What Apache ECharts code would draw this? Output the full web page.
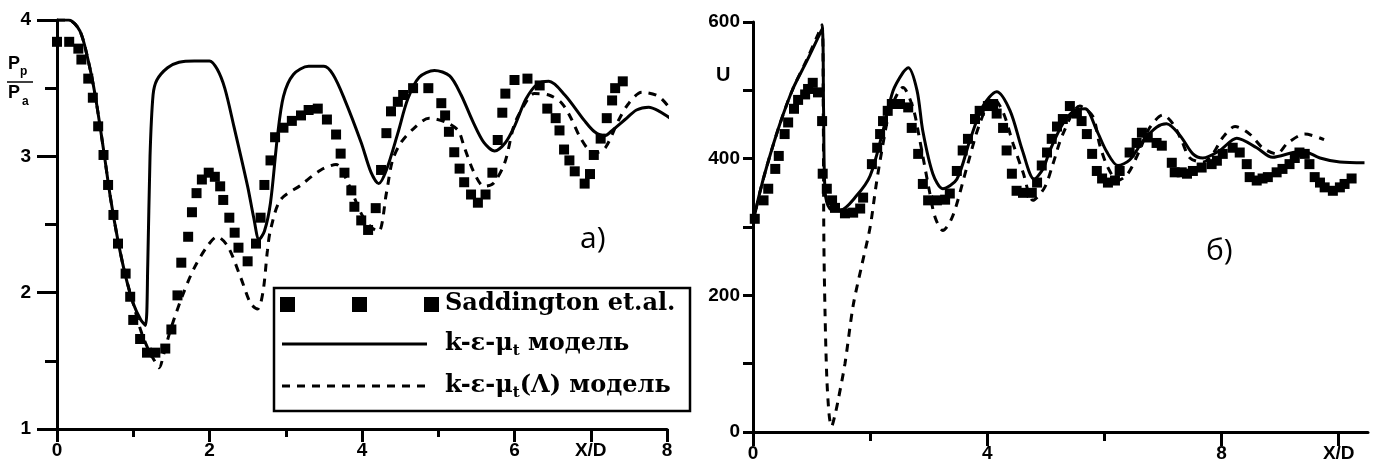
<!DOCTYPE html>
<html>
<head>
<meta charset="utf-8">
<script src="https://cdn.jsdelivr.net/npm/echarts@6/dist/echarts.min.js"></script>
<style>html,body{margin:0;padding:0;background:#fff}#c{width:1376px;height:466px}</style>
</head>
<body>
<div id="c"></div>
<script>
// ---------- Panel a) : Pp/Pa vs X/D ----------
var aSolid = [[0,4],[0.15,4],[0.3,3.92],[0.41,3.7],[0.5,3.45],[0.61,3.05],[0.7,2.7],[0.8,2.38],[0.9,2.12],[1.0,1.92],[1.1,1.8],[1.16,1.76],[1.19,2.2],[1.22,3.0],[1.26,3.45],[1.31,3.56],[1.45,3.65],[1.6,3.69],[1.8,3.7],[2.0,3.7],[2.1,3.64],[2.2,3.5],[2.32,3.22],[2.5,2.78],[2.58,2.55],[2.65,2.39],[2.72,2.45],[2.8,2.66],[2.89,3.14],[2.97,3.44],[3.1,3.6],[3.3,3.66],[3.5,3.66],[3.62,3.6],[3.77,3.42],[3.99,3.1],[4.12,2.88],[4.22,2.8],[4.32,2.9],[4.47,3.17],[4.6,3.42],[4.75,3.58],[4.95,3.63],[5.15,3.59],[5.3,3.45],[5.45,3.26],[5.6,3.1],[5.74,3.04],[5.88,3.1],[6.0,3.22],[6.15,3.42],[6.3,3.53],[6.45,3.55],[6.66,3.45],[6.92,3.26],[7.05,3.18],[7.18,3.15],[7.3,3.2],[7.45,3.27],[7.6,3.34],[7.76,3.36],[7.9,3.33],[8.04,3.28]];
var aDashed = [[0,4],[0.15,4],[0.3,3.92],[0.41,3.7],[0.5,3.45],[0.61,3.05],[0.7,2.7],[0.8,2.38],[0.9,2.12],[1.0,1.92],[1.1,1.72],[1.2,1.58],[1.28,1.5],[1.34,1.45],[1.4,1.55],[1.49,1.73],[1.64,1.97],[1.79,2.17],[1.97,2.34],[2.1,2.41],[2.24,2.34],[2.41,2.11],[2.54,1.92],[2.63,1.88],[2.7,2.0],[2.76,2.31],[2.8,2.46],[2.93,2.68],[3.2,2.79],[3.46,2.9],[3.66,2.94],[3.82,2.8],[3.99,2.58],[4.12,2.48],[4.22,2.45],[4.32,2.73],[4.4,2.97],[4.51,3.1],[4.67,3.2],[4.88,3.28],[5.1,3.25],[5.26,3.19],[5.34,3.07],[5.47,2.88],[5.6,2.78],[5.72,2.8],[5.87,2.95],[5.99,3.22],[6.09,3.34],[6.26,3.46],[6.45,3.45],[6.62,3.39],[6.75,3.27],[6.86,3.14],[6.99,3.04],[7.1,3.03],[7.2,3.07],[7.37,3.27],[7.5,3.39],[7.67,3.47],[7.89,3.44],[8.04,3.35]];
var aExp = [[0,3.84],[0.16,3.84],[0.28,3.79],[0.32,3.71],[0.41,3.57],[0.47,3.43],[0.54,3.22],[0.61,3.01],[0.67,2.79],[0.74,2.57],[0.8,2.36],[0.9,2.14],[0.96,1.97],[1.0,1.8],[1.09,1.66],[1.18,1.56],[1.29,1.56],[1.42,1.59],[1.5,1.73],[1.58,1.98],[1.63,2.22],[1.72,2.41],[1.77,2.59],[1.83,2.73],[1.9,2.83],[1.99,2.88],[2.07,2.85],[2.14,2.78],[2.18,2.68],[2.26,2.55],[2.33,2.44],[2.38,2.33],[2.5,2.23],[2.61,2.36],[2.67,2.55],[2.72,2.79],[2.8,2.97],[2.86,3.14],[2.97,3.21],[3.08,3.26],[3.2,3.3],[3.3,3.34],[3.42,3.35],[3.54,3.27],[3.66,3.16],[3.72,3.02],[3.77,2.88],[3.86,2.75],[3.9,2.63],[3.99,2.53],[4.08,2.46],[4.18,2.62],[4.25,2.9],[4.32,3.17],[4.38,3.33],[4.47,3.4],[4.54,3.45],[4.67,3.5],[4.87,3.5],[5.04,3.39],[5.09,3.3],[5.14,3.18],[5.21,3.03],[5.28,2.91],[5.34,2.81],[5.43,2.72],[5.52,2.66],[5.62,2.72],[5.71,2.88],[5.78,3.12],[5.84,3.32],[5.88,3.46],[6.0,3.56],[6.17,3.57],[6.33,3.52],[6.43,3.35],[6.54,3.28],[6.59,3.19],[6.65,3.05],[6.72,2.97],[6.79,2.89],[6.92,2.8],[6.99,2.87],[7.04,3.01],[7.13,3.13],[7.21,3.28],[7.28,3.41],[7.32,3.5],[7.42,3.55]];
var aXTicks = [0,2,4,6,7,8];
var aXLabels = {0:'0',2:'2',4:'4',6:'6',7:'X/D',8:'8'};

// ---------- Panel б) : U vs X/D ----------
var bSolid = [[0,305],[0.1,345],[0.24,390],[0.46,451],[0.68,502],[0.92,543],[1.11,577],[1.18,590],[1.205,470],[1.23,353],[1.31,327],[1.48,324],[1.77,346],[2.0,375],[2.22,441],[2.39,499],[2.56,526],[2.65,533],[2.8,500],[2.9,440],[3.07,378],[3.24,356],[3.48,370],[3.7,426],[3.92,476],[4.16,498],[4.39,470],[4.6,412],[4.8,370],[4.95,385],[5.07,412],[5.29,451],[5.5,471],[5.67,473],[5.87,441],[6.04,410],[6.23,390],[6.43,398],[6.66,426],[6.89,446],[7.06,451],[7.29,434],[7.51,407],[7.68,401],[7.97,412],[8.26,430],[8.6,416],[8.87,402],[9.22,409],[9.39,411],[9.68,401],[10.02,395],[10.44,394]];
var bDashed = [[0,305],[0.1,345],[0.24,390],[0.46,451],[0.68,502],[0.92,545],[1.11,582],[1.18,596],[1.2,460],[1.21,280],[1.23,174],[1.26,80],[1.3,25],[1.34,8],[1.4,25],[1.45,45],[1.57,100],[1.71,185],[1.86,245],[2.0,300],[2.1,360],[2.2,412],[2.34,470],[2.56,504],[2.73,475],[2.85,426],[3.02,349],[3.11,314],[3.24,295],[3.41,316],[3.65,387],[3.87,451],[4.1,489],[4.27,468],[4.44,422],[4.61,380],[4.78,339],[4.98,358],[5.12,392],[5.29,436],[5.58,477],[5.8,462],[5.92,420],[6.06,387],[6.23,368],[6.4,378],[6.6,412],[6.77,445],[7.0,464],[7.17,451],[7.32,426],[7.46,401],[7.68,395],[7.85,407],[8.02,431],[8.23,447],[8.48,436],[8.7,416],[8.94,407],[9.13,423],[9.42,436],[9.75,428]];
var bExp = [[0.03,312],[0.18,339],[0.26,356],[0.38,385],[0.44,404],[0.54,436],[0.6,453],[0.7,473],[0.77,486],[0.89,494],[0.94,502],[1.02,511],[1.11,497],[1.18,455],[1.19,378],[1.26,356],[1.35,339],[1.4,328],[1.57,320],[1.71,321],[1.83,327],[1.88,343],[2.03,392],[2.12,416],[2.17,436],[2.22,455],[2.3,470],[2.37,480],[2.51,480],[2.65,475],[2.71,445],[2.82,407],[2.9,363],[2.99,339],[3.14,339],[3.28,340],[3.36,349],[3.48,382],[3.58,412],[3.67,429],[3.79,458],[3.87,470],[4.01,477],[4.1,480],[4.16,466],[4.27,445],[4.33,412],[4.42,378],[4.5,353],[4.61,350],[4.76,350],[4.85,365],[4.93,390],[5.02,409],[5.1,429],[5.19,447],[5.29,458],[5.41,477],[5.53,466],[5.61,455],[5.7,436],[5.79,407],[5.87,382],[5.96,371],[6.06,365],[6.18,368],[6.26,382],[6.43,409],[6.55,423],[6.64,438],[6.74,431],[6.89,423],[6.98,419],[7.15,394],[7.2,380],[7.32,380],[7.41,378],[7.51,382],[7.66,387],[7.83,392],[7.92,397],[8.02,407],[8.19,416],[8.31,409],[8.43,392],[8.48,373],[8.6,368],[8.7,371],[8.79,373],[8.94,380],[9.04,385],[9.16,392],[9.25,401],[9.33,409],[9.42,407],[9.5,392],[9.59,373],[9.68,365],[9.76,358],[9.9,353],[10.02,358],[10.1,363],[10.22,371]];
var bXLabels = {0:'0',4:'4',8:'8',10:'X/D'};

var legendNames = ['Saddington et.al.', 'k-ε-μ|t| модель', 'k-ε-μ|t|(Λ) модель'];

var axisFont = {fontFamily:'Liberation Sans', fontWeight:'bold', fontSize:19, color:'#000'};
var black = '#000';
var dash = [8,7];

var chart = echarts.init(document.getElementById('c'), null, {renderer:'canvas'});

function richName(s){
  var p = s.split('|');
  if (p.length === 1) return '{a|' + s + '}';
  return '{a|' + p[0] + '}{s|' + p[1] + '}{a|' + p[2] + '}';
}
var legRich = {
  a:{fontFamily:'DejaVu Serif', fontWeight:'bold', fontSize:24, color:black, lineHeight:30},
  s:{fontFamily:'DejaVu Serif', fontWeight:'bold', fontSize:15, color:black, lineHeight:30, verticalAlign:'bottom', padding:[8,0,0,0]}
};
var rows = [304, 344, 386];

var lineBase = {type:'line', showSymbol:false, smooth:0.3, z:3};
var option = {
  backgroundColor:'#fff',
  animation:false,
  grid:[
    {left:57, top:20, width:610, height:409},
    {left:753, top:22, width:615, height:410}
  ],
  xAxis:[
    {gridIndex:0, type:'value', min:0, max:8, interval:2,
     axisLine:{onZero:false, lineStyle:{color:black, width:3}},
     axisTick:{show:true, customValues:aXTicks, length:13, lineStyle:{color:black, width:3}},
     minorTick:{show:true, splitNumber:2, length:8, lineStyle:{color:black, width:3}},
     axisLabel:Object.assign({margin:12, customValues:aXTicks, formatter:function(v){return aXLabels[v]!==undefined?aXLabels[v]:'';}}, axisFont),
     splitLine:{show:false}},
    {gridIndex:1, type:'value', min:0, max:10.5, interval:4,
     axisLine:{onZero:false, lineStyle:{color:black, width:3}},
     axisTick:{show:true, customValues:[0,4,8,10], length:14, lineStyle:{color:black, width:3}},
     minorTick:{show:true, splitNumber:2, length:9, lineStyle:{color:black, width:3}},
     axisLabel:Object.assign({margin:12, customValues:[0,4,8,10], formatter:function(v){return bXLabels[v]!==undefined?bXLabels[v]:'';}}, axisFont),
     splitLine:{show:false}}
  ],
  yAxis:[
    {gridIndex:0, type:'value', min:1, max:4, interval:1,
     axisLine:{show:true, onZero:false, lineStyle:{color:black, width:3}},
     axisTick:{show:true, length:20, lineStyle:{color:black, width:3}},
     minorTick:{show:true, splitNumber:2, length:12, lineStyle:{color:black, width:3}},
     axisLabel:Object.assign({margin:26}, axisFont),
     splitLine:{show:false}},
    {gridIndex:1, type:'value', min:0, max:600, interval:200,
     axisLine:{show:true, onZero:false, lineStyle:{color:black, width:3}},
     axisTick:{show:true, length:10, lineStyle:{color:black, width:3}},
     minorTick:{show:true, splitNumber:2, length:10, lineStyle:{color:black, width:3}},
     axisLabel:Object.assign({margin:13}, axisFont),
     splitLine:{show:false}}
  ],
  series:[
    Object.assign({xAxisIndex:0, yAxisIndex:0, data:aSolid, lineStyle:{color:black, width:3}}, lineBase),
    Object.assign({xAxisIndex:0, yAxisIndex:0, data:aDashed, lineStyle:{color:black, width:3, type:dash}}, lineBase),
    {type:'scatter', xAxisIndex:0, yAxisIndex:0, data:aExp, symbol:'rect', symbolSize:10, itemStyle:{color:black, opacity:1}, z:4},
    Object.assign({xAxisIndex:1, yAxisIndex:1, data:bSolid, lineStyle:{color:black, width:3}}, lineBase),
    Object.assign({xAxisIndex:1, yAxisIndex:1, data:bDashed, lineStyle:{color:black, width:3, type:dash}}, lineBase),
    {type:'scatter', xAxisIndex:1, yAxisIndex:1, data:bExp, symbol:'rect', symbolSize:10, itemStyle:{color:black, opacity:1}, z:4}
  ],
  graphic:[
    // Y name panel a: Pp / Pa
    {type:'text', left:8, top:55, style:{text:'P', font:'bold 18px "Liberation Sans"', fill:black}},
    {type:'text', left:20, top:66, style:{text:'p', font:'bold 12px "Liberation Sans"', fill:black}},
    {type:'line', shape:{x1:7, y1:82, x2:33, y2:82}, style:{stroke:black, lineWidth:1.5}},
    {type:'text', left:8, top:84, style:{text:'P', font:'bold 18px "Liberation Sans"', fill:black}},
    {type:'text', left:22, top:96, style:{text:'a', font:'bold 12px "Liberation Sans"', fill:black}},
    // Y name panel б
    {type:'text', left:716, top:65, style:{text:'U', font:'bold 20px "Liberation Sans"', fill:black}},
    // panel labels
    {type:'text', left:580, top:224, style:{text:'а)', font:'30px "Open Sans"', fill:black}},
    {type:'text', left:1206, top:236, style:{text:'б)', font:'30px "Open Sans"', fill:black}},
    // legend box
    {type:'rect', shape:{x:274, y:288, width:416, height:123}, style:{fill:'#fff', stroke:black, lineWidth:2.5}, z:10},
    {type:'rect', shape:{x:280, y:rows[0]-7, width:15, height:15}, style:{fill:black}, z:11},
    {type:'rect', shape:{x:352, y:rows[0]-7, width:15, height:15}, style:{fill:black}, z:11},
    {type:'rect', shape:{x:424, y:rows[0]-7, width:15, height:15}, style:{fill:black}, z:11},
    {type:'line', shape:{x1:282, y1:rows[1], x2:427, y2:rows[1]}, style:{stroke:black, lineWidth:3}, z:11},
    {type:'line', shape:{x1:282, y1:rows[2], x2:427, y2:rows[2]}, style:{stroke:black, lineWidth:3, lineDash:dash}, z:11},
    {type:'text', x:445, y:rows[0], z:11, style:{text:richName(legendNames[0]), rich:legRich, verticalAlign:'middle'}},
    {type:'text', x:445, y:rows[1], z:11, style:{text:richName(legendNames[1]), rich:legRich, verticalAlign:'middle'}},
    {type:'text', x:445, y:rows[2], z:11, style:{text:richName(legendNames[2]), rich:legRich, verticalAlign:'middle'}}
  ]
};
chart.setOption(option);
</script>
</body>
</html>
